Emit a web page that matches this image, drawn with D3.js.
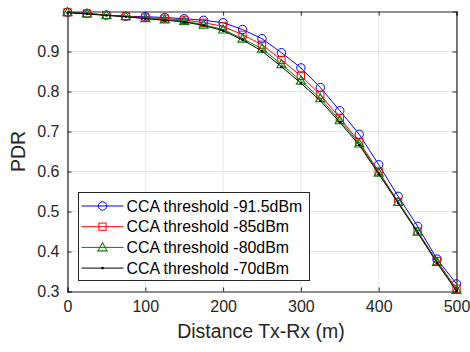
<!DOCTYPE html>
<html>
<head>
<meta charset="utf-8">
<script src="https://cdn.jsdelivr.net/npm/d3@7"></script>
<style>
body { margin: 0; background: #fff; }
svg { display: block; font-family: "Liberation Sans", Arial, sans-serif; }
</style>
</head>
<body>
<svg width="470" height="352"></svg>
<script>
// distanze (m) e PDR
const distance = [0, 25, 50, 75, 100, 125, 150, 175, 200, 225, 250, 275, 300, 325, 350, 375, 400, 425, 450, 475, 500];
const pdr915 = [0.998, 0.995, 0.991, 0.988, 0.987, 0.985, 0.982, 0.978, 0.972, 0.955, 0.932, 0.897, 0.859, 0.810, 0.752, 0.693, 0.617, 0.538, 0.463, 0.381, 0.319];
const pdr85 = [0.998, 0.995, 0.991, 0.988, 0.985, 0.982, 0.979, 0.972, 0.963, 0.942, 0.917, 0.879, 0.839, 0.792, 0.734, 0.674, 0.600, 0.524, 0.450, 0.376, 0.307];
const pdr80 = [0.998, 0.995, 0.991, 0.988, 0.983, 0.980, 0.976, 0.967, 0.955, 0.932, 0.907, 0.868, 0.827, 0.783, 0.728, 0.670, 0.597, 0.524, 0.450, 0.374, 0.304];
const pdr70 = [0.997, 0.994, 0.990, 0.987, 0.982, 0.978, 0.974, 0.965, 0.952, 0.929, 0.901, 0.862, 0.821, 0.777, 0.723, 0.666, 0.594, 0.521, 0.447, 0.371, 0.301];

const seriesNames = ['CCA threshold -91.5dBm', 'CCA threshold -85dBm', 'CCA threshold -80dBm', 'CCA threshold -70dBm'];
const seriesValues = [pdr915, pdr85, pdr80, pdr70];
const colors = ['#0000ff', '#ff0000', '#008000', '#000000'];
const markers = ['circle', 'square', 'triangle', 'dot'];

const xTicks = [0, 100, 200, 300, 400, 500];
const yTicks = [0.3, 0.4, 0.5, 0.6, 0.7, 0.8, 0.9];

const svg = d3.select('svg');
const plot = {left: 67.5, right: 456.5, top: 11.5, bottom: 291.5};

const x = d3.scaleLinear().domain([0, 500]).range([plot.left, plot.right]);
const y = d3.scaleLinear().domain([0.3, 1]).range([plot.bottom, plot.top]);

// griglia
svg.append('g').selectAll('line').data(xTicks).enter().append('line')
	.attr('x1', d => x(d)).attr('x2', d => x(d))
	.attr('y1', plot.top).attr('y2', plot.bottom)
	.style('stroke', '#e6e6e6');
svg.append('g').selectAll('line').data(yTicks).enter().append('line')
	.attr('x1', plot.left).attr('x2', plot.right)
	.attr('y1', d => y(d)).attr('y2', d => y(d))
	.style('stroke', '#e6e6e6');

// assi con tick interni su tutti i lati
const axisColor = '#262626';
const gx = svg.append('g').attr('transform', `translate(0,${plot.bottom})`)
	.call(d3.axisBottom(x).tickValues(xTicks).tickSize(-4).tickPadding(9).tickFormat(d3.format('d')));
const gxTop = svg.append('g').attr('transform', `translate(0,${plot.top})`)
	.call(d3.axisTop(x).tickValues(xTicks).tickSize(-4).tickFormat(''));
const gy = svg.append('g').attr('transform', `translate(${plot.left},0)`)
	.call(d3.axisLeft(y).tickValues(yTicks).tickSize(-4).tickPadding(8).tickFormat(d3.format('.1f')));
const gyRight = svg.append('g').attr('transform', `translate(${plot.right},0)`)
	.call(d3.axisRight(y).tickValues(yTicks).tickSize(-4).tickFormat(''));

[gx, gxTop, gy, gyRight].forEach(g => {
	g.select('.domain').attr('stroke', axisColor).attr('stroke-width', 1.2);
	g.selectAll('.tick line').attr('stroke', axisColor);
	g.selectAll('text').attr('fill', '#262626').style('font-size', '16px').attr('font-family', null);
});
gx.selectAll('.tick text').attr('dy', '0.71em');

// etichette degli assi
svg.append('text')
	.attr('x', 261)
	.attr('y', 338)
	.attr('text-anchor', 'middle')
	.style('font-size', '19.5px')
	.attr('fill', '#262626')
	.text('Distance Tx-Rx (m)');
svg.append('text')
	.attr('transform', `translate(25,${(plot.top + plot.bottom) / 2}) rotate(-90)`)
	.attr('text-anchor', 'middle')
	.style('font-size', '19.5px')
	.attr('fill', '#262626')
	.text('PDR');

// disegna un marker
function drawMarker(g, type, cx, cy, color) {
	if (type === 'circle') {
		g.append('circle').attr('cx', cx).attr('cy', cy).attr('r', 4.2)
			.style('fill', 'none').style('stroke', color).style('stroke-width', 1);
	} else if (type === 'square') {
		g.append('rect').attr('x', cx - 3.6).attr('y', cy - 3.6).attr('width', 7.2).attr('height', 7.2)
			.style('fill', 'none').style('stroke', color).style('stroke-width', 1);
	} else if (type === 'triangle') {
		const s = 4.6;
		g.append('path').attr('d', `M ${cx},${cy - s} L ${cx + s},${cy + s * 0.75} L ${cx - s},${cy + s * 0.75} Z`)
			.style('fill', 'none').style('stroke', color).style('stroke-width', 1.1);
	} else {
		g.append('circle').attr('cx', cx).attr('cy', cy).attr('r', 1.3).style('fill', color);
	}
}

const line = d3.line().x(d => x(d[0])).y(d => y(d[1]));

// serie
for (let i = 0; i < seriesValues.length; i++) {
	const pts = distance.map((d, j) => [d, seriesValues[i][j]]);
	const g = svg.append('g');
	g.append('path')
		.attr('d', line(pts))
		.style('fill', 'none')
		.style('stroke', colors[i])
		.style('stroke-width', 1);
	pts.forEach(p => drawMarker(g, markers[i], x(p[0]), y(p[1]), colors[i]));
}

// legenda
const legend = svg.append('g').attr('transform', 'translate(78.5,192.5)');
legend.append('rect')
	.attr('width', 231).attr('height', 88)
	.style('fill', '#fff').style('stroke', axisColor).style('stroke-width', 1);
seriesNames.forEach((name, i) => {
	const ly = 13.5 + i * 20.7;
	legend.append('line')
		.attr('x1', 3).attr('x2', 45).attr('y1', ly).attr('y2', ly)
		.style('stroke', colors[i]).style('stroke-width', 1);
	drawMarker(legend, markers[i], 24, ly, colors[i]);
	legend.append('text')
		.attr('x', 48).attr('y', ly)
		.attr('dy', '0.36em')
		.style('font-size', '15.9px')
		.attr('fill', '#000')
		.text(name);
});
</script>
</body>
</html>
